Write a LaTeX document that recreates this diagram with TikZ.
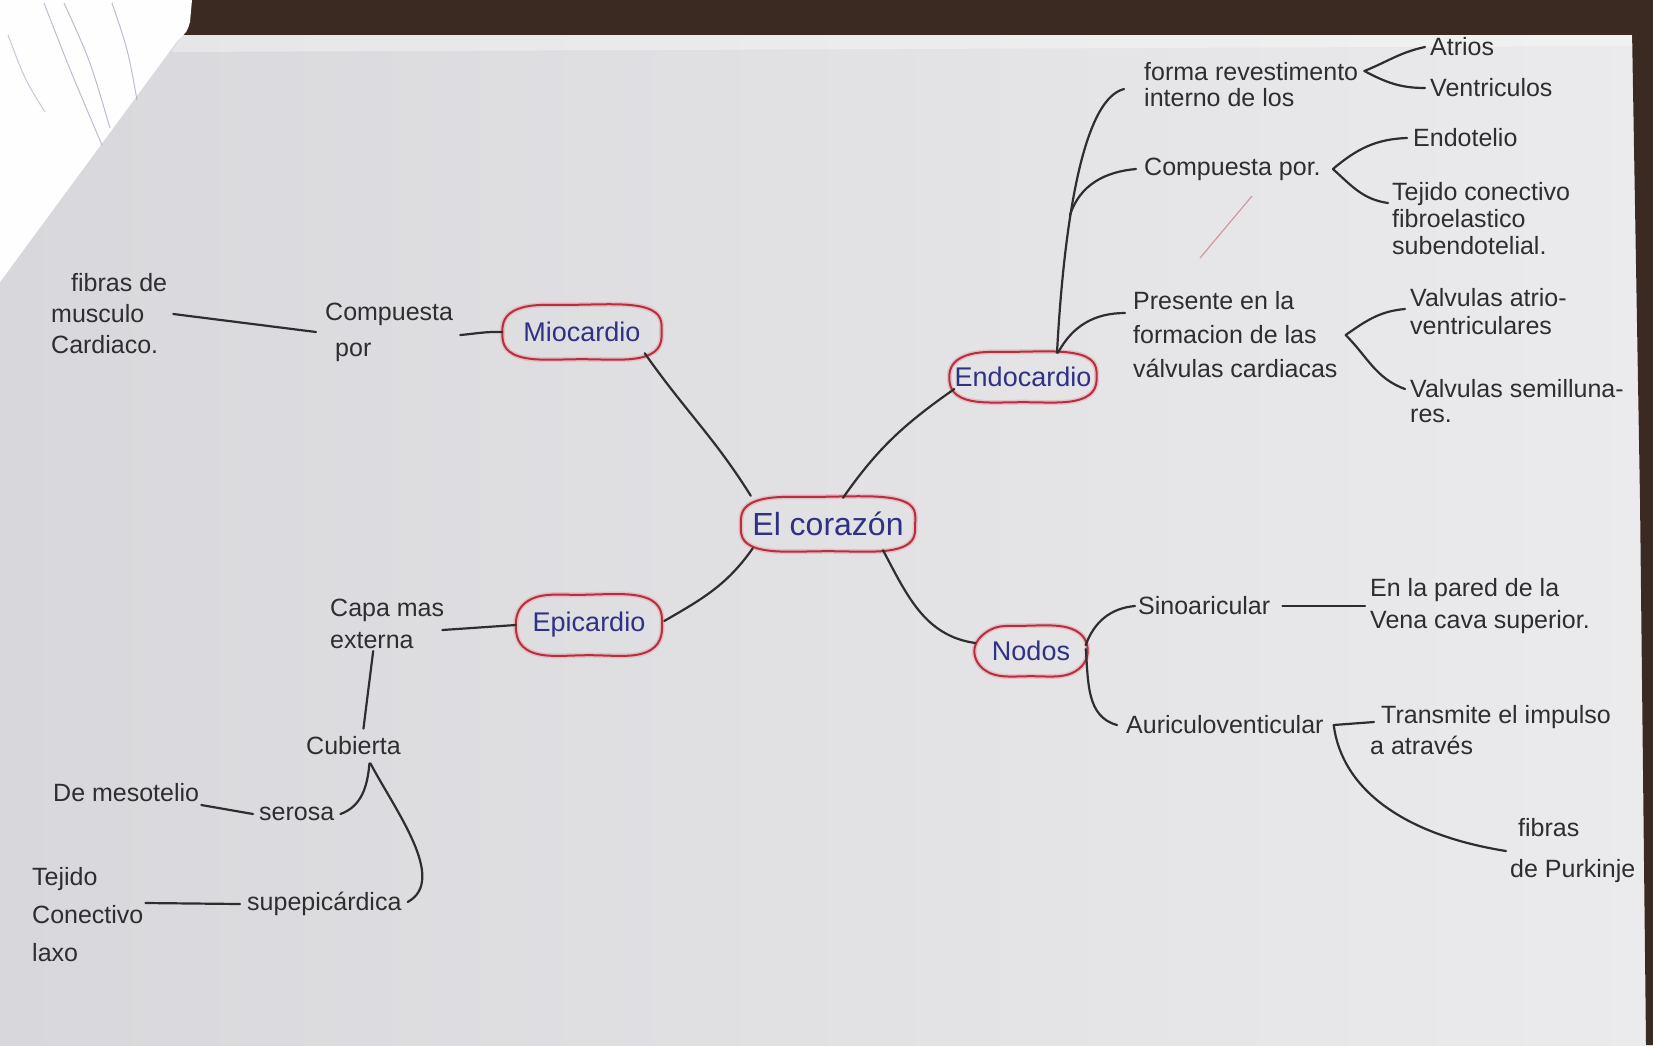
\documentclass[tikz,border=0pt]{standalone}
\usepackage{fontspec}
\setmainfont{Liberation Sans}
\usetikzlibrary{calc}
\definecolor{ink}{HTML}{2E2E30}
\definecolor{blueink}{HTML}{2F3185}
\definecolor{redink}{HTML}{B5303E}
\definecolor{pinkhalo}{HTML}{E7A3AC}
\definecolor{paperL}{HTML}{D8D8DC}
\definecolor{paperR}{HTML}{EBEBED}
\definecolor{wood}{HTML}{3B2A22}
\definecolor{nbline}{HTML}{8F93B5}
\newcommand\redcloud[1]{%
  \draw[halo] plot[smooth cycle,tension=.7] coordinates {(#1.west) ($(#1.north west)+(16,-3)$) ($(#1.north)+(-8,1)$) ($(#1.north east)+(-16,-2)$) (#1.east) ($(#1.south east)+(-16,2)$) ($(#1.south)+(0,-1)$) ($(#1.south west)+(16,2)$)};
  \draw[cloudline] plot[smooth cycle,tension=.7] coordinates {(#1.west) ($(#1.north west)+(16,-3)$) ($(#1.north)+(-8,1)$) ($(#1.north east)+(-16,-2)$) (#1.east) ($(#1.south east)+(-16,2)$) ($(#1.south)+(0,-1)$) ($(#1.south west)+(16,2)$)};}
\begin{document}
\begin{tikzpicture}[x=1pt,y=1pt,
  pen/.style={draw=ink, line width=2.2pt, line cap=round},
  hand/.style={text=ink, font=\fontsize{25}{#1}\selectfont, align=left, inner sep=0pt, anchor=west},
  hand/.default=30,
  keynode/.style={text=blueink, font=\fontsize{27}{30}\selectfont, inner sep=0pt},
  halo/.style={draw=pinkhalo, line width=5pt, opacity=.55},
  cloudline/.style={draw=redink, line width=2pt}]
\useasboundingbox (0,0) rectangle (1653,-1045);
% background (photo of paper)
\shade[left color=paperL, right color=paperR] (0,0) rectangle (1653,-1045);
\fill[wood] (180,0) rectangle (1653,-35);
\fill[wood] (1632,-30) -- (1640,-500) -- (1646,-1045) -- (1653,-1045) -- (1653,-30) -- cycle;
\fill[white, opacity=.35] (182,-35) -- (1632,-35) -- (1632,-46) -- (172,-52) -- cycle;
\fill[white!94!paperR] (0,0) -- (192,0) -- (190,-22) .. controls (187,-32) .. (178,-40) -- (0,-282) -- cycle;
\draw[nbline, line width=1pt, opacity=.6] (44,-3) .. controls (70,-70) .. (102,-145);
\draw[nbline, line width=1pt, opacity=.6] (64,-3) .. controls (90,-60) .. (110,-128);
\draw[nbline, line width=1pt, opacity=.6] (112,-3) .. controls (128,-50) .. (137,-100);
\draw[nbline, line width=1pt, opacity=.5] (8,-35) .. controls (25,-80) .. (45,-112);
% central and main nodes
\node[keynode, font=\fontsize{32}{34}\selectfont, minimum width=174pt, minimum height=52pt] (cor) at (828,-524) {El corazón};
\node[keynode, minimum width=159pt, minimum height=52pt] (mio) at (582,-332) {Miocardio};
\node[keynode, minimum width=147pt, minimum height=48pt] (endo) at (1023,-377) {Endocardio};
\node[keynode, minimum width=146pt, minimum height=58pt] (epi) at (589,-625) {Epicardio};
\node[keynode, minimum width=113pt, minimum height=48pt] (nod) at (1031,-651) {Nodos};
\redcloud{cor}
\redcloud{mio}
\redcloud{endo}
\redcloud{epi}
\redcloud{nod}
% text nodes
\node[hand=36] (comp1) at (325,-332) {Compuesta\\\hspace*{10pt}por};
\node[hand=31] (fib1) at (51,-314) {\hspace*{20pt}fibras de\\musculo\\Cardiaco.};
\node[hand=32] (capa) at (330,-624) {Capa mas\\externa};
\node[hand] (cub) at (306,-746) {Cubierta};
\node[hand] (mes) at (53,-793) {De mesotelio};
\node[hand] (ser) at (259,-814) {serosa};
\node[hand] (sup) at (247,-904) {supepicárdica};
\node[hand=38] (tej1) at (32,-915) {Tejido\\Conectivo\\laxo};
\node[hand=26] (forma) at (1144,-85) {forma revestimento\\interno de los};
\node[hand] (atr) at (1430,-47) {Atrios};
\node[hand] (ven) at (1430,-88) {Ventriculos};
\node[hand] (comp2) at (1144,-169) {Compuesta por.};
\node[hand] (endot) at (1413,-138) {Endotelio};
\node[hand=27] (tej2) at (1392,-219) {Tejido conectivo\\fibroelastico\\subendotelial.};
\node[hand=34] (pres) at (1133,-335) {Presente en la\\formacion de las\\válvulas cardiacas};
\node[hand=28] (vatr) at (1410,-312) {Valvulas atrio-\\ventriculares};
\node[hand=25] (vsem) at (1410,-401) {Valvulas semilluna-\\res.};
\node[hand] (sino) at (1138,-606) {Sinoaricular};
\node[hand] (aur) at (1126,-725) {Auriculoventicular};
\node[hand=32] (enla) at (1370,-606) {En la pared de la\\Vena cava superior.};
\node[hand=31] (trans) at (1370,-730) {\hspace*{11pt}Transmite el impulso\\a através};
\node[hand=41] (fib2) at (1510,-851) {\hspace*{8pt}fibras\\de Purkinje};
% connectors from the centre
\draw[pen] ([shift={(-17,5)}]mio.south east) to[out=-55,in=122] ([shift={(10,2)}]cor.north west);
\draw[pen] ([xshift=15]cor.north) to[out=55,in=215] ([shift={(5,-12)}]endo.west);
\draw[pen] ([shift={(12,2)}]cor.south west) to[out=-125,in=30] ([shift={(2,4)}]epi.east);
\draw[pen] ([xshift=55]cor.south) to[out=-62,in=172] ([shift={(1,8)}]nod.west);
% Miocardio branch
\draw[pen] (mio.west) to[out=178,in=5] ([shift={(7,-3)}]comp1.east);
\draw[pen] ([xshift=6]fib1.east) -- ([xshift=-9]comp1.west);
% Epicardio branch
\draw[pen] (epi.west) -- ([shift={(-2,-6)}]capa.east);
\draw[pen] ([shift={(-14,-2)}]capa.south) -- ([shift={(10,8)}]cub.north);
\draw[pen] ([shift={(2,-12)}]mes.east) -- ([shift={(-6,0)}]ser.west);
\draw[pen] ([xshift=6]ser.east) to[out=20,in=-95] ([shift={(16,-8)}]cub.south);
\draw[pen] ([shift={(17,-8)}]cub.south) .. controls (395,-810) and (448,-880) .. ([shift={(6,2)}]sup.east);
\draw[pen] ([shift={(2,12)}]tej1.east) -- ([xshift=-7]sup.west);
% Endocardio branch
\coordinate (tb) at ([xshift=34]endo.north);
\coordinate (j1) at (1070,-215);
\draw[pen] (tb) .. controls (1063,-240) and (1080,-100) .. ([shift={(-20,-4)}]forma.west);
\draw[pen] (j1) to[out=72,in=185] ([xshift=-8]comp2.west);
\draw[pen] ([xshift=1]tb) to[out=62,in=180] ([shift={(-8,22)}]pres.west);
\coordinate (fa) at ([shift={(6,14)}]forma.east);
\draw[pen] (fa) to[out=22,in=192] ([xshift=-5]atr.west);
\draw[pen] (fa) to[out=-28,in=180] ([xshift=-5]ven.west);
\coordinate (ca) at ([xshift=12]comp2.east);
\draw[pen] (ca) to[out=40,in=182] ([xshift=-6]endot.west);
\draw[pen] (ca) to[out=-42,in=172] ([shift={(-4,16)}]tej2.west);
\coordinate (pa) at ([xshift=8]pres.east);
\draw[pen] (pa) to[out=35,in=185] ([shift={(-5,3)}]vatr.west);
\draw[pen] (pa) to[out=-45,in=160] ([shift={(-5,12)}]vsem.west);
\draw[redink!75, line width=1.2pt, opacity=.6] (1200,-258) -- (1252,-196);
% Nodos branch
\draw[pen] ([shift={(-2,6)}]nod.east) to[out=70,in=185] ([xshift=-3]sino.west);
\draw[pen] ([shift={(-2,2)}]nod.east) to[out=-85,in=165] ([xshift=-9]aur.west);
\draw[pen] ([xshift=12]sino.east) -- ([xshift=-5]enla.west);
\coordinate (aa) at ([xshift=10]aur.east);
\draw[pen] (aa) -- ([shift={(4,8)}]trans.west);
\draw[pen] (aa) .. controls (1342,-790) and (1405,-835) .. ([xshift=-4]fib2.west);
\end{tikzpicture}
\end{document}
